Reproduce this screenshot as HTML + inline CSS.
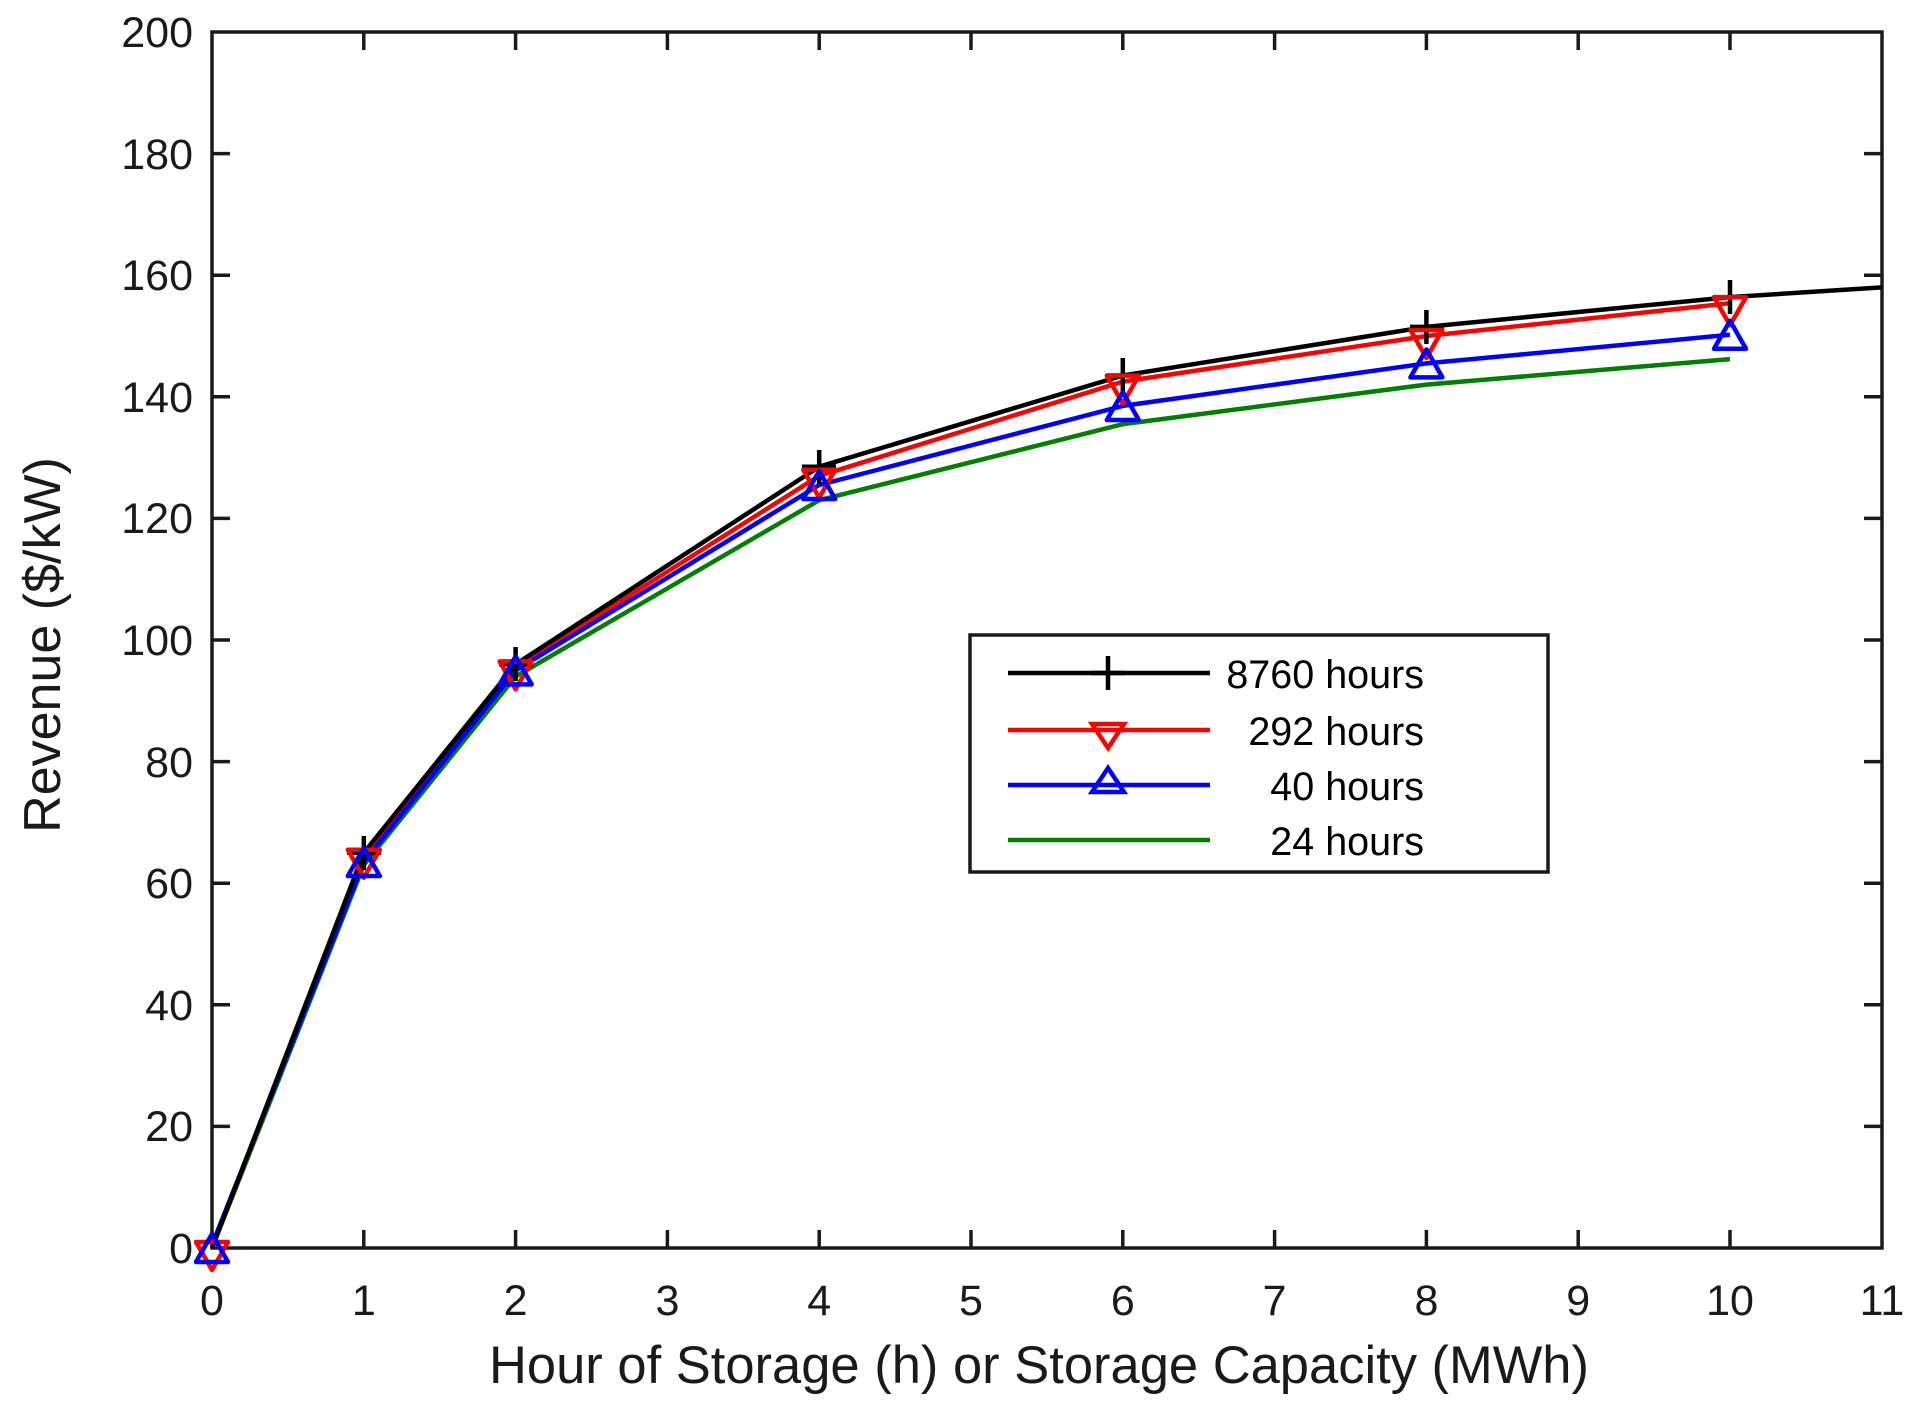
<!DOCTYPE html>
<html><head><meta charset="utf-8"><style>html,body{margin:0;padding:0;background:#fff}svg{display:block}</style></head>
<body>
<svg width="1917" height="1406" viewBox="0 0 1917 1406" xmlns="http://www.w3.org/2000/svg" font-family="Liberation Sans, Arial, sans-serif">
<rect width="1917" height="1406" fill="#fff"/>
<g stroke="#1a1a1a" stroke-width="3.5" fill="none">
<rect x="212" y="32" width="1670" height="1216"/>
<path d="M363.8,1248v-18M515.6,1248v-18M667.4,1248v-18M819.2,1248v-18M971,1248v-18M1122.8,1248v-18M1274.6,1248v-18M1426.4,1248v-18M1578.2,1248v-18M1730,1248v-18
M363.8,32v18M515.6,32v18M667.4,32v18M819.2,32v18M971,32v18M1122.8,32v18M1274.6,32v18M1426.4,32v18M1578.2,32v18M1730,32v18
M212,1126.4h18M212,1004.8h18M212,883.2h18M212,761.6h18M212,640h18M212,518.4h18M212,396.8h18M212,275.2h18M212,153.6h18
M1882,1126.4h-18M1882,1004.8h-18M1882,883.2h-18M1882,761.6h-18M1882,640h-18M1882,518.4h-18M1882,396.8h-18M1882,275.2h-18M1882,153.6h-18"/>
</g>
<g font-size="43" fill="#1a1a1a" text-anchor="end">
<text x="193" y="1263">0</text><text x="193" y="1141">20</text><text x="193" y="1020">40</text><text x="193" y="898">60</text><text x="193" y="777">80</text><text x="193" y="655">100</text><text x="193" y="533">120</text><text x="193" y="412">140</text><text x="193" y="290">160</text><text x="193" y="169">180</text><text x="193" y="47">200</text>
</g>
<g font-size="43" fill="#1a1a1a" text-anchor="middle">
<text x="212" y="1315">0</text><text x="363.8" y="1315">1</text><text x="515.6" y="1315">2</text><text x="667.4" y="1315">3</text><text x="819.2" y="1315">4</text><text x="971" y="1315">5</text><text x="1122.8" y="1315">6</text><text x="1274.6" y="1315">7</text><text x="1426.4" y="1315">8</text><text x="1578.2" y="1315">9</text><text x="1730" y="1315">10</text><text x="1882" y="1315">11</text>
</g>
<text x="1039" y="1383" font-size="52.5" fill="#1a1a1a" text-anchor="middle">Hour of Storage (h) or Storage Capacity (MWh)</text>
<text transform="translate(60,645) rotate(-90)" font-size="52" fill="#1a1a1a" text-anchor="middle">Revenue ($/kW)</text>
<g fill="none" stroke-width="4.5" stroke-linejoin="round">
<polyline stroke="#007f00" points="212,1248 363.8,865 515.6,676.5 819.2,500.2 1122.8,424.2 1426.4,384.6 1730,359.1"/>
<polyline stroke="#ff0000" points="212,1248 363.8,855.8 515.6,667.4 819.2,475.8 1122.8,381.6 1426.4,336 1730,303.2"/>
<polyline stroke="#0000ff" points="212,1245 363.8,861.9 515.6,670.4 819.2,485 1122.8,405.9 1426.4,363.4 1730,334.8"/>
<polyline stroke="#000" points="212,1248 363.8,852.8 515.6,664.3 819.2,466.7 1122.8,375.5 1426.4,326.9 1730,297.1 1882,287.4"/>
</g>
<g stroke="#000" stroke-width="4.5" fill="none">
<path d="M363.8,836v34M347,852.8h34M515.6,647v34M499,664.3h34M819.2,450v34M802,466.7h34M1122.8,358v34M1106,375.5h34M1426.4,310v34M1410,326.9h34M1730,280v34M1713,297.1h34"/>
</g>
<g stroke="#ff0000" stroke-width="4.5" fill="none" stroke-linejoin="round">
<path d="M196,1242h32l-16,28z"/>
<path d="M347.8,849.8h32l-16,28z"/>
<path d="M499.6,661.4h32l-16,28z"/>
<path d="M803.2,469.8h32l-16,28z"/>
<path d="M1106.8,375.6h32l-16,28z"/>
<path d="M1410.4,330h32l-16,28z"/>
<path d="M1714,297.2h32l-16,28z"/>
</g>
<g stroke="#0000ff" stroke-width="4.5" fill="none" stroke-linejoin="round">
<path d="M196,1262h32l-16,-28z"/>
<path d="M347.8,876h32l-16,-28z"/>
<path d="M499.6,684.4h32l-16,-28z"/>
<path d="M803.2,499h32l-16,-28z"/>
<path d="M1106.8,420h32l-16,-28z"/>
<path d="M1410.4,377.4h32l-16,-28z"/>
<path d="M1714,348.8h32l-16,-28z"/>
</g>
<rect x="970" y="635" width="578" height="237" fill="#fff" stroke="#1a1a1a" stroke-width="3.5"/>
<g stroke-width="4.5">
<path d="M1008,673h202" stroke="#000"/>
<path d="M1108,656v34M1091,673h34" stroke="#000"/>
<path d="M1008,730h202" stroke="#ff0000"/>
<path d="M1092,724h32l-16,24z" stroke="#ff0000" fill="none"/>
<path d="M1008,785h202" stroke="#0000ff"/>
<path d="M1092,792h32l-16,-24z" stroke="#0000ff" fill="none"/>
<path d="M1008,840h202" stroke="#007f00"/>
</g>
<g font-size="39.5" fill="#000" text-anchor="end">
<text x="1424" y="688">8760 hours</text>
<text x="1424" y="745">292 hours</text>
<text x="1424" y="800">40 hours</text>
<text x="1424" y="855">24 hours</text>
</g>
</svg>
</body></html>
